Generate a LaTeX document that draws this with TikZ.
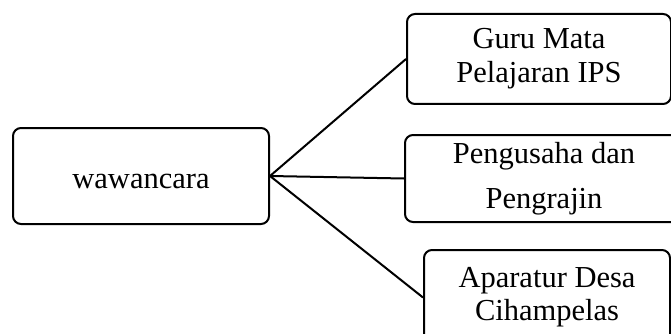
\documentclass[tikz,border=0pt]{standalone}
\usepackage{fontspec}
\setmainfont{Liberation Serif}
\begin{document}
\begin{tikzpicture}[x=1pt,y=-1pt,
  box/.style={draw=black, line width=2pt, rounded corners=8pt, fill=white,
    inner sep=0pt, anchor=north west, align=center},
  link/.style={draw=black, line width=2pt}]
\path[use as bounding box, clip] (0,0) rectangle (671,334);
\node[box, minimum width=256pt, minimum height=96pt,
  font=\fontsize{30.5}{34}\selectfont, text height=27pt, text depth=3pt]
  (L) at (12,127) {wawancara};
\node[box, minimum width=264pt, minimum height=90pt,
  font=\fontsize{30.5}{34}\selectfont]
  (T) at (406,13) {Guru Mata\\Pelajaran IPS};
\node[box, minimum width=278pt, minimum height=87pt,
  font=\fontsize{30.5}{45}\selectfont]
  (M) at (404,134) {Pengusaha dan\\Pengrajin};
\node[box, minimum width=246pt, minimum height=95pt,
  font=\fontsize{30.5}{33}\selectfont]
  (B) at (423,249) {Aparatur Desa\\Cihampelas};
\draw[link] (L.east) -- (T.west);
\draw[link] (L.east) -- (M.west);
\draw[link] (L.east) -- (B.west);
\end{tikzpicture}
\end{document}
